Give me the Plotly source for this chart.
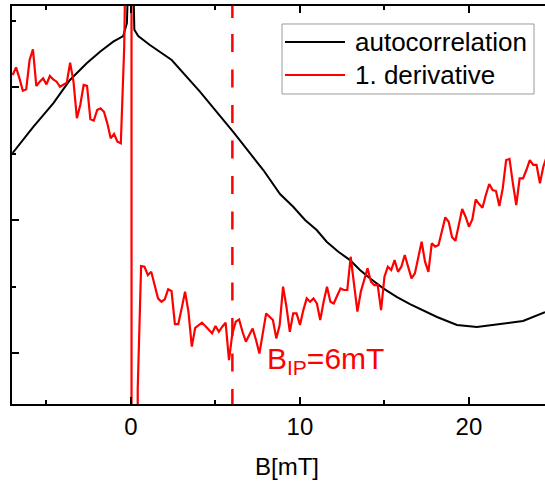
import plotly.graph_objects as go

# ---- data (arbitrary units on y) ----
B_auto = [-7.0, -5.78, -4.60, -3.61, -2.62, -1.83, -1.05, -0.46, -0.24, -0.12, 0.0, 0.12, 0.20,
          0.43, 1.12, 2.41, 4.08, 6.05, 7.83, 8.82, 9.60, 10.30, 10.99, 11.58, 12.27, 12.96,
          13.55, 14.14, 14.93, 15.72, 16.51, 18.11, 19.29, 20.47, 22.01, 23.20, 24.50]
autocorr = [1.504, 1.701, 1.877, 2.053, 2.178, 2.265, 2.341, 2.383, 2.48, 2.9, 3.5, 2.9, 2.43,
            2.383, 2.316, 2.203, 1.965, 1.662, 1.376, 1.195, 1.100, 1.000, 0.925, 0.837, 0.762,
            0.699, 0.624, 0.562, 0.486, 0.423, 0.368, 0.271, 0.211, 0.195, 0.218, 0.241, 0.308]

deriv = [2.090, 2.148, 2.065, 1.972, 1.983, 2.203, 2.283, 2.008, 2.040, 2.065, 2.020, 2.083,
         2.058, 2.040, 2.002, 2.020, 2.032, 2.183, 2.040, 1.765, 1.865, 2.015, 2.008, 1.757,
         1.747, 1.827, 1.840, 1.814, 1.727, 1.614, 1.647, 1.589, 1.577,
         2.3, 4.0, 60, -300, -0.27,
         0.654, 0.649, 0.586, 0.611, 0.499, 0.411, 0.386, 0.404, 0.479, 0.466, 0.218, 0.218,
         0.336, 0.461, 0.311, 0.048, 0.190, 0.211, 0.228, 0.203, 0.173, 0.148, 0.203, 0.160,
         0.198, 0.228, -0.053, 0.148, 0.236, 0.253, 0.160, 0.085, 0.135, 0.185, 0.098, -0.003,
         0.148, 0.298, 0.273, 0.248, 0.110, 0.211, 0.499,
         0.348, 0.160, 0.298, 0.298, 0.211, 0.323, 0.411, 0.386, 0.411, 0.373, 0.248, 0.386,
         0.499, 0.386, 0.373, 0.431, 0.486, 0.474, 0.474, 0.724, 0.499, 0.311, 0.461, 0.549,
         0.637, 0.536, 0.511, 0.511, 0.323, 0.574, 0.649, 0.624, 0.699, 0.611, 0.649, 0.737,
         0.649, 0.561, 0.599, 0.717, 0.837, 0.687, 0.611, 0.825, 0.800, 0.812, 0.925, 1.020,
         0.987, 0.870, 0.845, 0.962, 1.083, 1.025, 0.950, 1.005, 1.155, 1.120, 1.093, 1.188,
         1.271, 1.226, 1.218, 1.105, 1.238, 1.451, 1.459, 1.276, 1.113, 1.313, 1.313, 1.376,
         1.451, 1.414, 1.414, 1.276, 1.401, 1.476]
B_start, B_step = -7.0, 0.2
B_deriv = [round(B_start + B_step * i, 2) for i in range(len(deriv))]

B_IP = 6
x_ticks = [0, 10, 20]
legend_names = ["autocorrelation", "1. derivative"]

FONT = "Liberation Sans, Arial, sans-serif"
RED = "#ff0000"

fig = go.Figure()
fig.add_trace(go.Scatter(x=B_auto, y=autocorr, mode="lines", name=legend_names[0],
                         line=dict(color="black", width=2), showlegend=False))
fig.add_trace(go.Scatter(x=B_deriv, y=deriv, mode="lines", name=legend_names[1],
                         line=dict(color=RED, width=2.2), showlegend=False))

dash = "12px,16px" + ",18px,17.5px" * 12
fig.add_shape(type="line", xref="x", yref="paper", x0=B_IP, x1=B_IP, y0=1, y1=0,
              line=dict(color=RED, width=2.5, dash=dash))

fig.add_annotation(x=0.4747, y=0.110, xref="paper", yref="paper", xanchor="left", yanchor="middle",
                   text="B<sub>IP</sub>=6mT", showarrow=False,
                   font=dict(family=FONT, size=30, color=RED))

# manual legend
fig.add_shape(type="rect", xref="paper", yref="paper", x0=0.5066, x1=0.9794, y0=0.7789, y1=0.9548,
              line=dict(color="#9a9a9a", width=1), fillcolor="white", layer="above")
for i, (nm, col) in enumerate(zip(legend_names, ["black", RED])):
    yy = 0.9095 - i * 0.0829
    fig.add_shape(type="line", xref="paper", yref="paper", x0=0.5122, x1=0.6248, y0=yy, y1=yy,
                  line=dict(color=col, width=2), layer="above")
    fig.add_annotation(x=0.6398, y=yy, xref="paper", yref="paper", xanchor="left", yanchor="middle",
                       text=nm, showarrow=False, font=dict(family=FONT, size=26, color="black"))

# axis title
fig.add_annotation(x=0.516, y=-0.157, xref="paper", yref="paper", xanchor="center", yanchor="middle",
                   text="B[mT]", showarrow=False, font=dict(family=FONT, size=24, color="black"))

fig.update_layout(
    width=545, height=483,
    margin=dict(l=12, r=0, t=6, b=79),
    plot_bgcolor="white", paper_bgcolor="white",
    showlegend=False,
    xaxis=dict(range=[-7.04, 24.50], tickmode="array", tickvals=x_ticks,
               ticks="inside", ticklen=7, tickwidth=2, tickcolor="black",
               showline=True, linewidth=2, linecolor="black", mirror="ticks",
               showgrid=False, zeroline=False,
               tickfont=dict(family=FONT, size=24, color="black"),
               minor=dict(tickvals=[-5, 5, 15], ticks="inside", ticklen=4, tickwidth=2,
                          tickcolor="black", showgrid=False)),
    yaxis=dict(range=[-0.383, 2.609], dtick=1, tick0=0, showticklabels=False,
               ticks="inside", ticklen=7, tickwidth=2, tickcolor="black",
               showline=True, linewidth=2, linecolor="black",
               showgrid=False, zeroline=False,
               minor=dict(dtick=0.5, ticks="inside", ticklen=4, tickwidth=2,
                          tickcolor="black", showgrid=False)),
)

fig.write_html("out.html", config={"displayModeBar": False},
               post_script="document.body.style.margin='0';document.body.style.overflow='hidden';")
